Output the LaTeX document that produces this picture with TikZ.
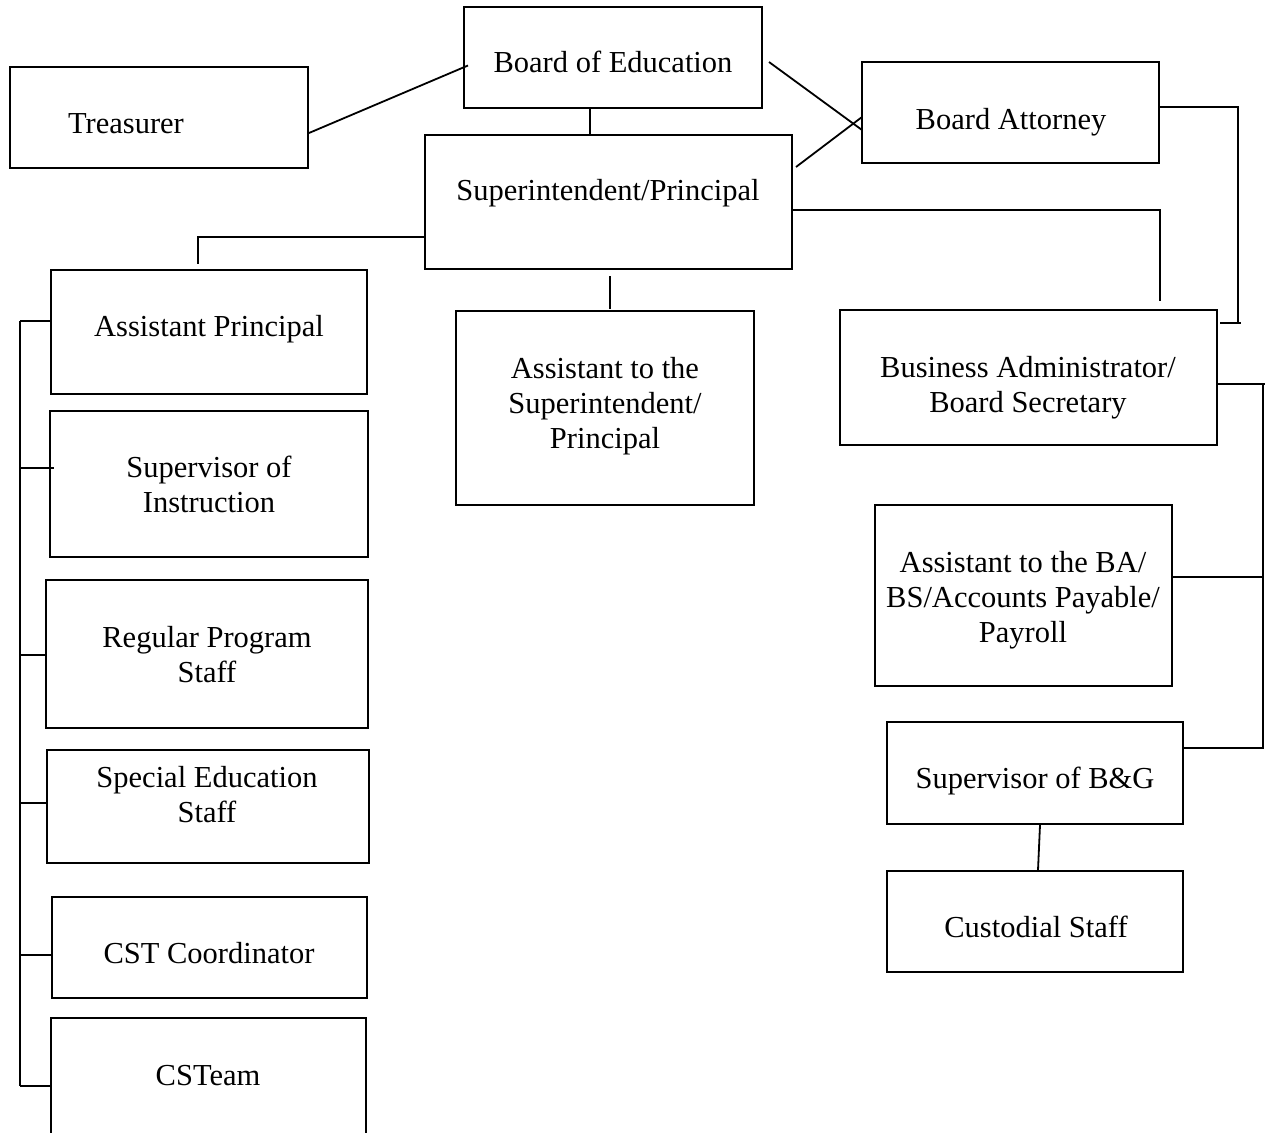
\documentclass[tikz,border=0pt]{standalone}
\usepackage{fontspec}
\setmainfont{Liberation Serif}
\begin{document}
\begin{tikzpicture}[x=1pt,y=-1pt,
  box/.style={draw,line width=2pt,inner sep=0pt,rectangle},
  txt/.style={inner sep=0pt,align=center,font=\fontsize{30.5}{35}\selectfont},
  con/.style={line width=1.8pt}]
\clip (0,0) rectangle (1265,1132);
\fill[white] (0,0) rectangle (1265,1132);
% boxes
\node[box,minimum width=298pt,minimum height=101pt] (tr) at (159,117.5) {};
\node[box,minimum width=298pt,minimum height=101pt] (bo) at (613,57.5) {};
\node[box,minimum width=297pt,minimum height=101pt] (at) at (1010.5,112.5) {};
\node[box,minimum width=367pt,minimum height=134pt] (sp) at (608.5,202) {};
\node[box,minimum width=316pt,minimum height=124pt] (ap) at (209,332) {};
\node[box,minimum width=298pt,minimum height=194pt] (as) at (605,408) {};
\node[box,minimum width=377pt,minimum height=135pt] (ba) at (1028.5,377.5) {};
\node[box,minimum width=318pt,minimum height=146pt] (si) at (209,484) {};
\node[box,minimum width=322pt,minimum height=148pt] (rp) at (207,654) {};
\node[box,minimum width=322pt,minimum height=113pt] (se) at (208,806.5) {};
\node[box,minimum width=315pt,minimum height=101pt] (cc) at (209.5,947.5) {};
\node[box,minimum width=315pt,minimum height=127pt] (ct) at (208.5,1081.5) {};
\node[box,minimum width=297pt,minimum height=181pt] (ab) at (1023.5,595.5) {};
\node[box,minimum width=296pt,minimum height=102pt] (sb) at (1035,773) {};
\node[box,minimum width=296pt,minimum height=101pt] (cu) at (1035,921.5) {};
% texts
\node[txt,anchor=base] (tr-t) at (126,133) {Treasurer};
\node[txt,anchor=base] (bo-t) at (613,73) {Board of Education};
\node[txt,anchor=base] (at-t) at (1011,129) {Board Attorney};
\node[txt,anchor=base] (sp-t) at (608,200) {Superintendent/Principal};
\node[txt,anchor=base] (ap-t) at (209,336) {Assistant Principal};
\node[txt] (as-t) at (605,406) {Assistant to the\\Superintendent/\\Principal};
\node[txt] (ba-t) at (1028,388) {Business Administrator/\\Board Secretary};
\node[txt] (si-t) at (209,484.5) {Supervisor of\\Instruction};
\node[txt] (rp-t) at (207,655) {Regular Program\\Staff};
\node[txt] (se-t) at (207,795) {Special Education\\Staff};
\node[txt,anchor=base] (cc-t) at (209,963) {CST Coordinator};
\node[txt,anchor=base] (ct-t) at (208,1085) {CSTeam};
\node[txt] (ab-t) at (1023,600) {Assistant to the BA/\\BS/Accounts Payable/\\Payroll};
\node[txt,anchor=base] (sb-t) at (1035,788) {Supervisor of B\&G};
\node[txt,anchor=base] (cu-t) at (1036,937) {Custodial Staff};
% connectors top
\draw[con] ([yshift=-15.5pt]tr.east) -- ([xshift=5pt,yshift=-8pt]bo.west);
\draw[con] ([xshift=-23pt]bo.south) -- ([xshift=-23pt]bo.south |- sp.north);
\draw[con] ([xshift=6pt,yshift=-4.5pt]bo.east) -- ([xshift=1pt,yshift=-17.5pt]at.west);
\draw[con] ([xshift=3pt,yshift=35pt]sp.east) -- ([xshift=1pt,yshift=-4.5pt]at.west);
\draw[con] ([yshift=-8pt]sp.east) -| ([xshift=131.5pt,yshift=8pt]ba.north);
\draw[con] ([yshift=5.5pt]at.east) -| ([xshift=20pt,yshift=54.5pt]ba.east);
\draw[con] ([xshift=2pt,yshift=54.5pt]ba.east) -- ([xshift=23pt,yshift=54.5pt]ba.east);
\draw[con] ([yshift=-35pt]sp.west) -| ([xshift=-11pt,yshift=5pt]ap.north);
\draw[con] ([xshift=1.5pt,yshift=-6pt]sp.south) -- ([xshift=5pt,yshift=1pt]as.north);
% right branch
\coordinate (redge) at (1266,384);
\coordinate (rtop) at (1263,384);
\coordinate (rmid) at (1263,577);
\coordinate (rbot) at (1263,748);
\draw[con] (rtop -| ba.east) -- (redge);
\draw[con] (rtop) -- (rbot) -- (rbot -| sb.east);
\draw[con] (rmid -| ab.east) -- (rmid);
\draw[con] ([xshift=5pt]sb.south) -- ([xshift=3pt]cu.north);
% left spine
\coordinate (l1) at (20,321);
\coordinate (l2) at (20,468);
\coordinate (l3) at (20,655);
\coordinate (l4) at (20,803);
\coordinate (l5) at (20,955);
\coordinate (l6) at (20,1086);
\draw[con] (l1) -- (l6);
\draw[con] (l1) -- (l1 -| ap.west);
\draw[con] (l2) -- ([xshift=5pt]l2 -| si.west);
\draw[con] (l3) -- (l3 -| rp.west);
\draw[con] (l4) -- (l4 -| se.west);
\draw[con] (l5) -- (l5 -| cc.west);
\draw[con] (l6) -- (l6 -| ct.west);
\end{tikzpicture}
\end{document}
